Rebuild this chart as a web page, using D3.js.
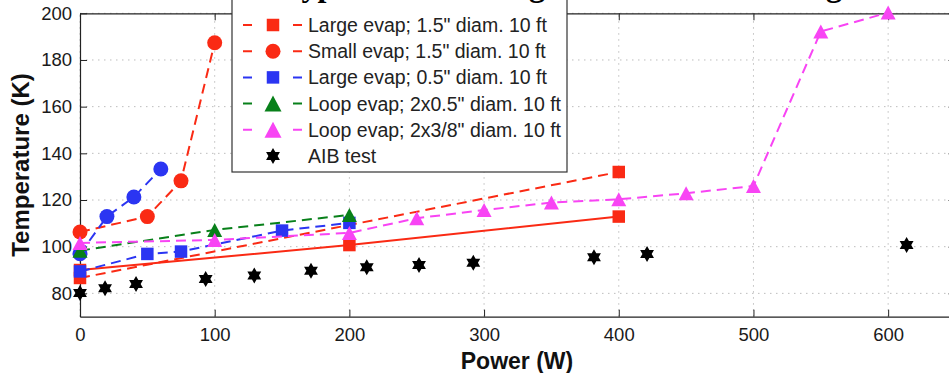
<!DOCTYPE html>
<html>
<head>
<meta charset="utf-8">
<script src="https://cdn.jsdelivr.net/npm/d3@7"></script>
<style>
  body { margin: 0; background: #fff; }
  svg { display: block; }
  text { font-family: "Liberation Sans", Arial, Helvetica, sans-serif; }
</style>
</head>
<body>
<svg id="chart" width="949" height="373"></svg>
<script>
// values (power in W, temperature in K)
const xTicks = [0, 100, 200, 300, 400, 500, 600];
const yTicks = [80, 100, 120, 140, 160, 180, 200];

const largeEvap15Power = [0, 400];
const largeEvap15Temp = [86.6, 132.0];

const largeEvap15TestPower = [0, 200, 400];
const largeEvap15TestTemp = [90.0, 100.7, 112.9];

const smallEvap15Power = [0, 50, 75, 100];
const smallEvap15Temp = [106.3, 112.9, 128.2, 187.4];

const smallEvap05Power = [0, 20, 40, 60];
const smallEvap05Temp = [97.0, 112.9, 121.3, 133.3];

const largeEvap05Power = [0, 50, 75, 150, 200];
const largeEvap05Temp = [89.4, 96.9, 97.9, 106.9, 110.2];

const loopEvap05Power = [0, 100, 200];
const loopEvap05Temp = [98.3, 107.2, 113.6];

const loopEvap38Power = [0, 100, 200, 250, 300, 350, 400, 450, 500, 550, 600];
const loopEvap38Temp = [101.6, 102.9, 105.9, 112.2, 115.7, 118.9, 120.3, 122.9, 126.0, 192.2, 200.3];

const aibPower = [0, 18.6, 41.6, 93.3, 129.4, 171.5, 212.9, 251.7, 292, 381.6, 421, 613.7];
const aibTemp = [80.2, 82.2, 84.0, 86.2, 87.6, 89.7, 91.2, 92.2, 93.1, 95.5, 96.9, 100.7];

const legendLabels = [
  'Large evap; 1.5" diam. 10 ft',
  'Small evap; 1.5" diam. 10 ft',
  'Large evap; 0.5" diam. 10 ft',
  'Loop evap; 2x0.5" diam. 10 ft',
  'Loop evap; 2x3/8" diam. 10 ft',
  'AIB test'
];

const RED = '#fa2a14';
const BLUE = '#2b35f2';
const GREEN = '#08801a';
const MAGENTA = '#f844f4';

const svg = d3.select('#chart');

const x = d3.scaleLinear().domain([0, 650]).range([80, 955.5]);
const y = d3.scaleLinear().domain([70, 200]).range([316.7, 13.3]);

// marker shapes
function square(s) {
  return `M${-s / 2},${-s / 2}h${s}v${s}h${-s}Z`;
}
function triangle(w, h) {
  return `M0,${-h / 2}L${w / 2},${h / 2}L${-w / 2},${h / 2}Z`;
}
function hexagram(r) {
  const pts = [];
  for (let i = 0; i < 12; i++) {
    const a = -Math.PI / 2 + (i * Math.PI) / 6;
    const rr = i % 2 === 0 ? r : r / Math.sqrt(3);
    pts.push([rr * Math.cos(a), rr * Math.sin(a)]);
  }
  return 'M' + pts.join('L') + 'Z';
}

const markers = {
  square: square(12.5),
  circle: d3.symbol(d3.symbolCircle, Math.PI * 7.5 * 7.5)(),
  triangle: triangle(15, 14),
  bigTriangle: triangle(17, 16),
  star: hexagram(8)
};

// grid
const grid = svg.append('g').attr('class', 'grid');
grid.selectAll('.gx')
  .data(xTicks)
  .join('line')
  .attr('x1', (d) => x(d)).attr('x2', (d) => x(d))
  .attr('y1', y(70)).attr('y2', y(200))
  .attr('stroke', '#bdbdbd')
  .attr('stroke-width', 1)
  .attr('stroke-dasharray', '1.5,4.5');
grid.selectAll('.gy')
  .data(yTicks)
  .join('line')
  .attr('x1', x(0)).attr('x2', x(650))
  .attr('y1', (d) => y(d)).attr('y2', (d) => y(d))
  .attr('stroke', '#bdbdbd')
  .attr('stroke-width', 1)
  .attr('stroke-dasharray', '1.5,4.5');

// axes, ticks pointing inward on all four sides
const axisColor = '#222';
const axisBottomG = svg.append('g')
  .attr('transform', `translate(0,${y(70)})`)
  .call(d3.axisBottom(x).tickValues(xTicks).tickSizeInner(-7).tickSizeOuter(0).tickPadding(11));
const axisLeftG = svg.append('g')
  .attr('transform', `translate(${x(0)},0)`)
  .call(d3.axisLeft(y).tickValues(yTicks).tickSizeInner(-7).tickSizeOuter(0).tickPadding(8));
const axisTopG = svg.append('g')
  .attr('transform', `translate(0,${y(200)})`)
  .call(d3.axisTop(x).tickValues(xTicks).tickSizeInner(-7).tickSizeOuter(0).tickFormat(''));
const axisRightG = svg.append('g')
  .attr('transform', `translate(${x(650)},0)`)
  .call(d3.axisRight(y).tickValues(yTicks).tickSizeInner(-7).tickSizeOuter(0).tickFormat(''));

[axisBottomG, axisLeftG, axisTopG, axisRightG].forEach((g) => {
  g.select('.domain').attr('stroke', axisColor).attr('stroke-width', 1.2);
  g.selectAll('.tick line').attr('stroke', axisColor).attr('stroke-width', 1);
  g.selectAll('.tick text')
    .attr('fill', '#1a1a1a')
    .style('font-size', '18.5px')
    .style('font-family', '"Liberation Sans", Arial, sans-serif');
});

// series, in drawing order
const series = [
  { power: largeEvap15Power, temp: largeEvap15Temp, color: RED, dash: '10,6', marker: 'square' },
  { power: smallEvap15Power, temp: smallEvap15Temp, color: RED, dash: '10,6', marker: 'circle' },
  { power: smallEvap05Power, temp: smallEvap05Temp, color: BLUE, dash: '10,6', marker: 'circle' },
  { power: largeEvap15TestPower, temp: largeEvap15TestTemp, color: RED, dash: null, marker: 'square' },
  { power: largeEvap05Power, temp: largeEvap05Temp, color: BLUE, dash: '10,6', marker: 'square' },
  { power: loopEvap05Power, temp: loopEvap05Temp, color: GREEN, dash: '10,6', marker: 'triangle' },
  { power: loopEvap38Power, temp: loopEvap38Temp, color: MAGENTA, dash: '10,6', marker: 'triangle' },
  { power: aibPower, temp: aibTemp, color: '#000', dash: 'none', marker: 'star' }
];

const line = d3.line().x((d) => x(d[0])).y((d) => y(d[1]));

series.forEach((s) => {
  const pts = d3.zip(s.power, s.temp);
  const g = svg.append('g');
  if (s.dash !== 'none') {
    g.append('path')
      .datum(pts)
      .attr('d', line)
      .attr('fill', 'none')
      .attr('stroke', s.color)
      .attr('stroke-width', 2)
      .attr('stroke-dasharray', s.dash);
  }
  g.selectAll('.m')
    .data(pts)
    .join('path')
    .attr('transform', (d) => `translate(${x(d[0])},${y(d[1])})`)
    .attr('d', markers[s.marker])
    .attr('fill', s.color);
});

// legend
const legendEntries = [
  { color: RED, marker: 'square', line: true },
  { color: RED, marker: 'circle', line: true },
  { color: BLUE, marker: 'square', line: true },
  { color: GREEN, marker: 'bigTriangle', line: true },
  { color: MAGENTA, marker: 'bigTriangle', line: true },
  { color: '#000', marker: 'star', line: false }
];

const legend = svg.append('g');
legend.append('rect')
  .attr('x', 232).attr('y', -6)
  .attr('width', 335).attr('height', 178)
  .attr('fill', '#fff')
  .attr('stroke', '#333')
  .attr('stroke-width', 1.2);

const rows = legend.selectAll('.row')
  .data(legendEntries)
  .join('g')
  .attr('transform', (d, i) => `translate(0,${25 + i * 26.2})`);
rows.filter((d) => d.line)
  .append('line')
  .attr('x1', 243).attr('x2', 302)
  .attr('stroke', (d) => d.color)
  .attr('stroke-width', 2)
  .attr('stroke-dasharray', '9,41');
rows.append('path')
  .attr('transform', 'translate(273,0)')
  .attr('d', (d) => markers[d.marker])
  .attr('fill', (d) => d.color);
rows.append('text')
  .attr('x', 308)
  .attr('dy', '0.36em')
  .attr('fill', '#222')
  .style('font-size', '19.5px')
  .text((d, i) => legendLabels[i]);

// title, mostly above the visible area
svg.append('text')
  .attr('x', 215)
  .attr('y', -4)
  .attr('fill', '#000')
  .style('font-family', '"Liberation Serif", "Times New Roman", serif')
  .style('font-weight', 'bold')
  .style('font-size', '32px')
  .text('Prototype Heat Loading vs. Cooldown Testing');

// axis labels
svg.append('text')
  .attr('x', 517)
  .attr('y', 369)
  .attr('text-anchor', 'middle')
  .attr('fill', '#111')
  .style('font-size', '23px')
  .style('font-weight', 'bold')
  .text('Power (W)');

svg.append('text')
  .attr('transform', `translate(29,${(y(70) + y(200)) / 2}) rotate(-90)`)
  .attr('text-anchor', 'middle')
  .attr('fill', '#111')
  .style('font-size', '24px')
  .style('font-weight', 'bold')
  .text('Temperature (K)');
</script>
</body>
</html>
